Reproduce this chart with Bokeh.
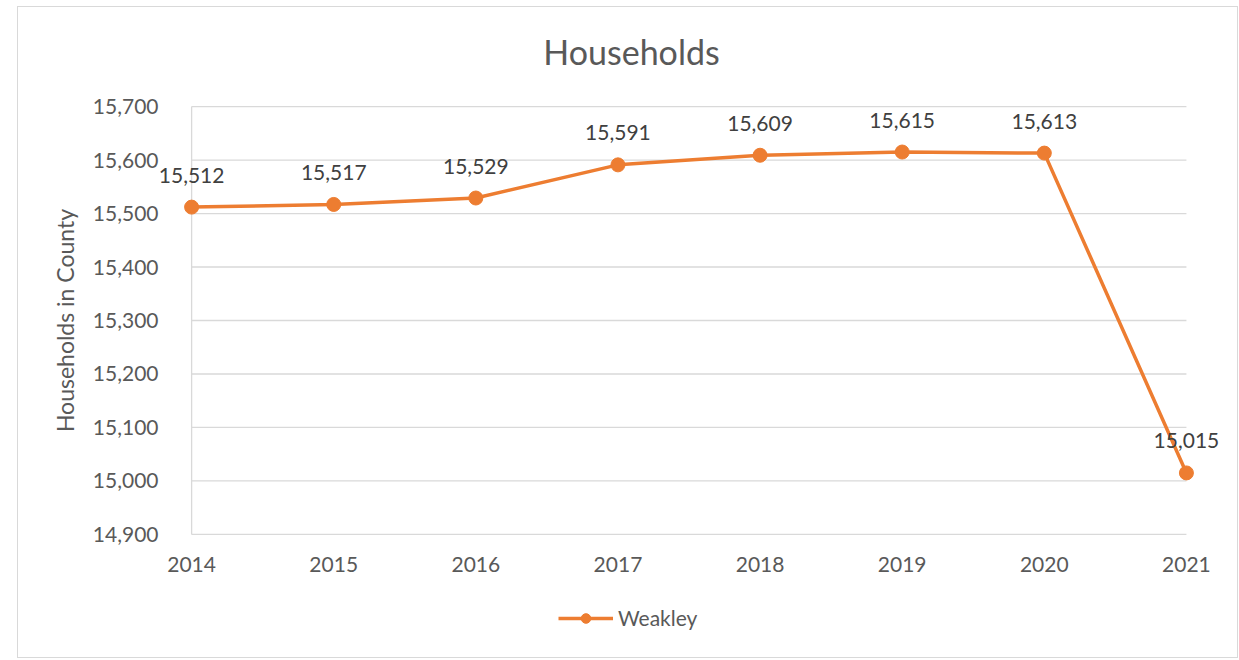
from bokeh.plotting import figure
from bokeh.layouts import column
from bokeh.models import (Range1d, Label, ColumnDataSource, Legend, LegendItem,
                          FixedTicker, NumeralTickFormatter)
from bokeh.embed import file_html
from bokeh.resources import INLINE

years = [2014, 2015, 2016, 2017, 2018, 2019, 2020, 2021]
households = [15512, 15517, 15529, 15591, 15609, 15615, 15613, 15015]
value_labels = ["15,512", "15,517", "15,529", "15,591", "15,609", "15,615", "15,613", "15,015"]
y_ticks = [14900, 15000, 15100, 15200, 15300, 15400, 15500, 15600, 15700]
series_name = "Weakley"
title_text = "Households"
y_title = "Households in County"

ORANGE = "#ED7D31"
GRID = "#D9D9D9"
AXIS_TXT = "#595959"
LBL_TXT = "#404040"
FONT = "Lato"
BORDER = "1px solid #D9D9D9"

# ---- title strip ----
f0 = figure(width=1221, height=88, x_range=Range1d(0, 1), y_range=Range1d(0, 1),
            x_axis_type=None, y_axis_type=None, title=None,
            output_backend="svg", toolbar_location=None,
            min_border_left=0, min_border_right=0, min_border_top=0, min_border_bottom=0,
            styles={"border-top": BORDER, "border-left": BORDER, "border-right": BORDER})
f0.outline_line_color = None
f0.xgrid.visible = False
f0.ygrid.visible = False
f0.add_layout(Label(x=473, y=44, x_units="screen", y_units="screen", text=title_text,
                    text_align="center", text_baseline="middle",
                    text_font=FONT, text_font_size="34px", text_color=AXIS_TXT))

# ---- main chart (frame wider than the gridded area so end labels are not clipped) ----
p = figure(width=1221, height=501, title=None,
           x_range=Range1d(years[0] - 0.233, years[-1] + 0.268),
           y_range=Range1d(y_ticks[0] - 2, y_ticks[-1] + 2),
           output_backend="svg", toolbar_location=None,
           min_border_left=140, min_border_right=15,
           min_border_top=11, min_border_bottom=60,
           styles={"border-left": BORDER, "border-right": BORDER})
p.outline_line_color = None
p.xgrid.visible = False
p.ygrid.visible = False

# gridlines across the plot area (from 2014 to 2021)
gsrc = ColumnDataSource(dict(x0=[years[0]] * len(y_ticks), x1=[years[-1]] * len(y_ticks),
                             y=y_ticks))
p.segment(x0="x0", x1="x1", y0="y", y1="y", source=gsrc, line_color=GRID, line_width=1.3)
p.segment(x0=[years[0]], x1=[years[0]], y0=[y_ticks[0]], y1=[y_ticks[-1]],
          line_color=GRID, line_width=1.3)

src = ColumnDataSource(dict(x=years, y=households))
p.line("x", "y", source=src, line_color=ORANGE, line_width=3.5)
p.scatter("x", "y", source=src, size=14, fill_color=ORANGE, line_color=ORANGE)

for xv, yv, t in zip(years, households, value_labels):
    p.add_layout(Label(x=xv, y=yv, text=t, y_offset=32,
                       text_align="center", text_baseline="middle",
                       text_font=FONT, text_font_size="21px", text_color=LBL_TXT))

# axes
p.yaxis.ticker = FixedTicker(ticks=y_ticks)
p.yaxis.formatter = NumeralTickFormatter(format="0,0")
p.yaxis.axis_line_color = None
p.yaxis.major_tick_line_color = None
p.yaxis.minor_tick_line_color = None
p.yaxis.major_tick_out = 0
p.yaxis.major_tick_in = 0
p.yaxis.major_label_standoff = 0
p.yaxis.major_label_text_font = FONT
p.yaxis.major_label_text_font_size = "21px"
p.yaxis.major_label_text_color = AXIS_TXT
p.yaxis.axis_label = y_title
p.yaxis.axis_label_standoff = 11
p.yaxis.axis_label_text_font = FONT
p.yaxis.axis_label_text_font_size = "23px"
p.yaxis.axis_label_text_font_style = "normal"
p.yaxis.axis_label_text_color = AXIS_TXT

p.xaxis.ticker = FixedTicker(ticks=years)
p.xaxis.axis_line_color = None
p.xaxis.major_tick_line_color = None
p.xaxis.minor_tick_line_color = None
p.xaxis.major_tick_out = 0
p.xaxis.major_tick_in = 0
p.xaxis.major_label_standoff = 21
p.xaxis.major_label_text_font = FONT
p.xaxis.major_label_text_font_size = "21px"
p.xaxis.major_label_text_color = AXIS_TXT

# ---- legend strip below the chart (its renderers' data lie outside its view) ----
f2 = figure(width=1221, height=63, x_range=Range1d(0, 1), y_range=Range1d(0, 1),
            x_axis_type=None, y_axis_type=None,
            output_backend="svg", toolbar_location=None,
            min_border_left=0, min_border_right=0, min_border_top=0, min_border_bottom=0,
            styles={"border-bottom": BORDER, "border-left": BORDER, "border-right": BORDER})
f2.outline_line_color = None
f2.xgrid.visible = False
f2.ygrid.visible = False
lg_line = f2.line("x", "y", source=src, line_color=ORANGE, line_width=3.5)
lg_dot = f2.scatter("x", "y", source=src, size=14, fill_color=ORANGE, line_color=ORANGE)
legend = Legend(items=[LegendItem(label=series_name, renderers=[lg_line, lg_dot])],
                location=(400, 28), padding=0, margin=0, spacing=0,
                glyph_width=55, glyph_height=24, label_height=24, label_standoff=5,
                label_text_font=FONT, label_text_font_size="21px",
                label_text_color=AXIS_TXT, border_line_color=None,
                background_fill_alpha=0)
f2.add_layout(legend, "center")

layout = column(f0, p, f2, spacing=0, styles={"margin-left": "17px", "margin-top": "6px"})

open("out.html", "w").write(file_html(layout, INLINE))
